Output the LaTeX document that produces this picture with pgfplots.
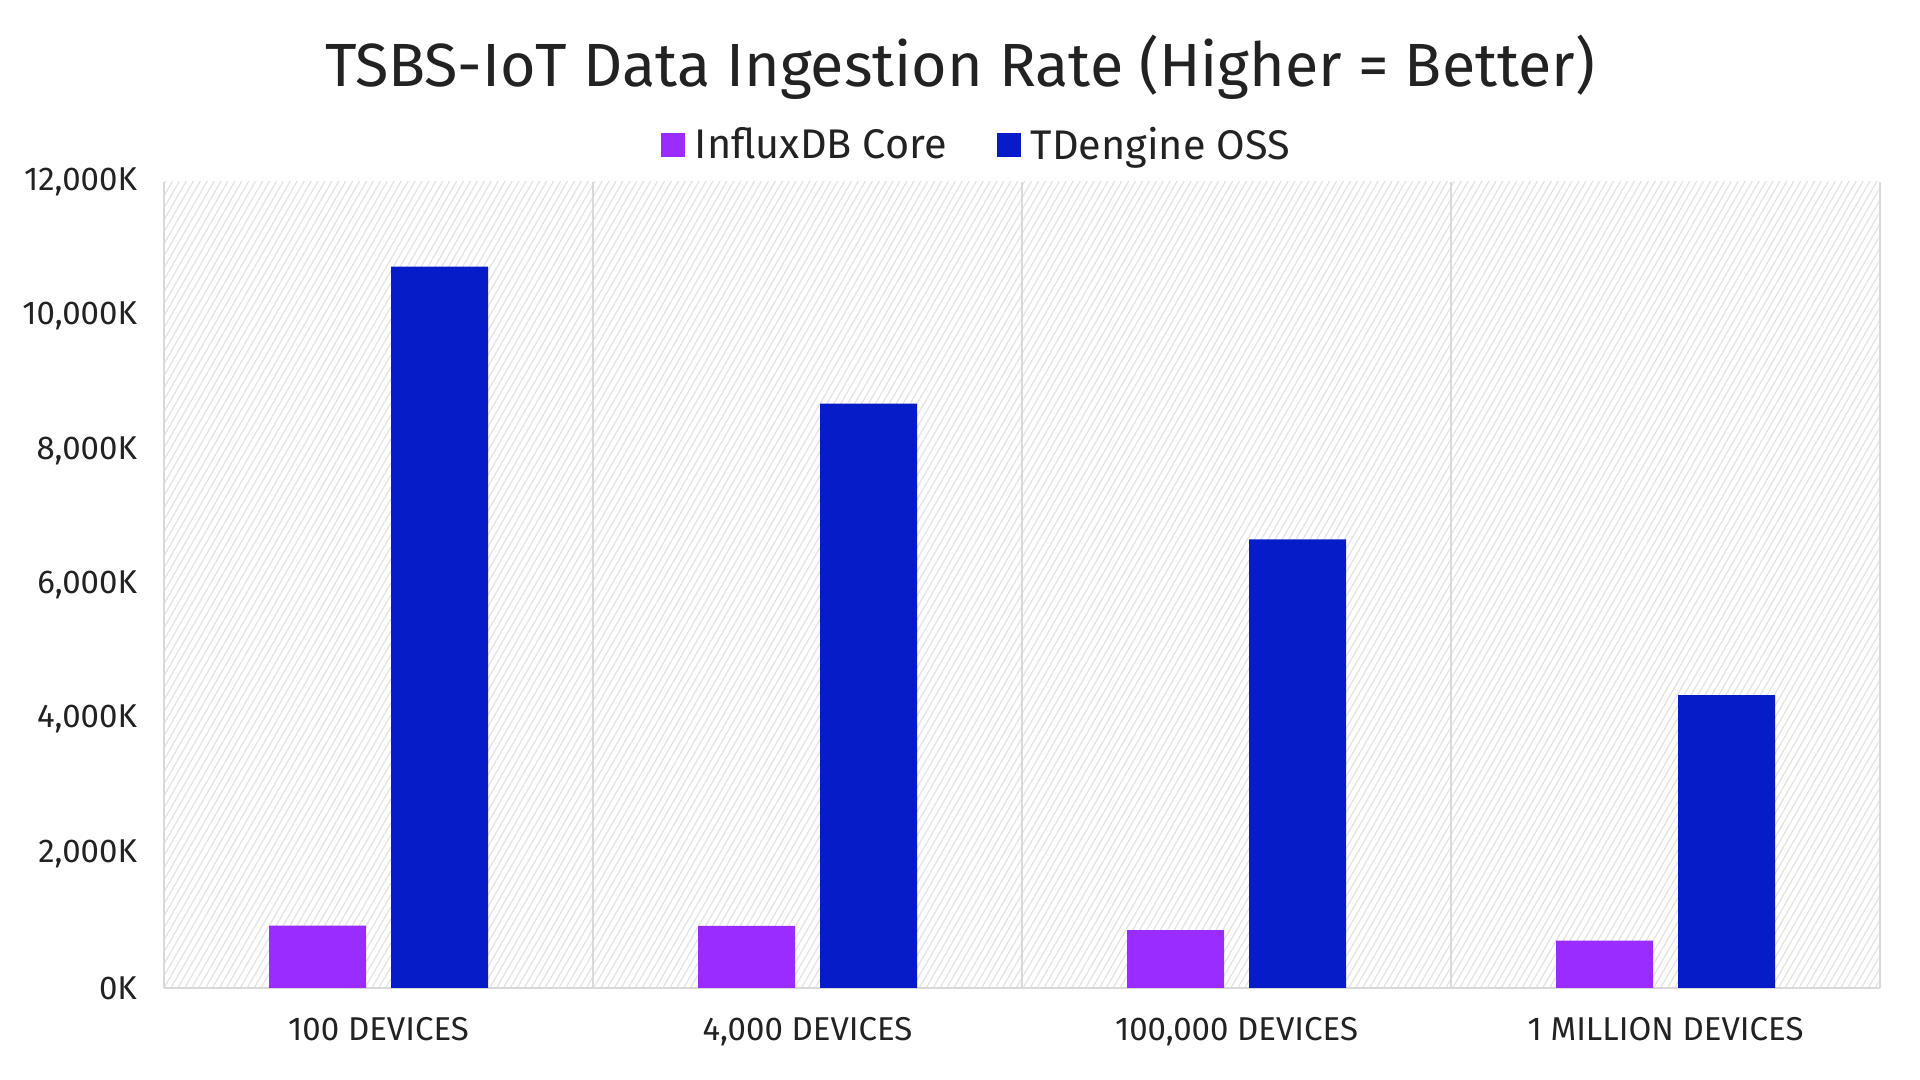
\documentclass[border=0pt]{standalone}
\usepackage{fontspec}
\setmainfont{Fira Sans}
\usepackage{pgfplots}
\pgfplotsset{compat=1.18}
\usetikzlibrary{patterns.meta}
\definecolor{cpurple}{HTML}{9B2CFF}
\definecolor{cblue}{HTML}{061CC8}
\definecolor{cgrid}{HTML}{D9D9D9}
\definecolor{chatch}{HTML}{E2E2E2}
\definecolor{ctext}{HTML}{222222}

\begin{document}
\begin{tikzpicture}
\useasboundingbox (0,0) rectangle (960pt,540pt);
\begin{axis}[
  at={(82pt,46pt)}, anchor=south west,
  scale only axis, width=858pt, height=403pt,
  ybar=12.5pt, bar width=48.5pt,
  xmin=-0.5, xmax=3.5, ymin=0, ymax=12000,
  xtick={0,1,2,3},
  xticklabels={100 DEVICES, {4,000 DEVICES}, {100,000 DEVICES}, 1 MILLION DEVICES},
  minor xtick={0.5,1.5,2.5,3.5},
  xminorgrids,
  minor grid style={cgrid, line width=1pt},
  major tick length=0pt, minor tick length=0pt,
  axis x line*=bottom, axis y line*=left,
  axis line style={cgrid, line width=1.2pt, -},
  ytick={0,2000,...,12000},
  scaled y ticks=false,
  yticklabel={\pgfmathprintnumber{\tick}K},
  yticklabel style={/pgf/number format/1000 sep={,}, /pgf/number format/assume math mode=true,
    font=\fontsize{16.5}{19}\selectfont, text=ctext, xshift=-10pt},
  xticklabel style={font=\fontsize{16.5}{19}\selectfont, text=ctext, yshift=-11pt},
  axis background/.style={pattern={Lines[angle=60, distance=3pt, line width=0.6pt]}, pattern color=chatch},
  legend style={at={(0.474,1.046)}, anchor=center, draw=none, fill=none,
    legend columns=2, font=\fontsize{20.7}{24}\selectfont, text=ctext,
    /tikz/every odd column/.append style={column sep=3pt},
    /tikz/every even column/.append style={column sep=23pt}},
  legend image code/.code={\fill[#1] (0pt,-6pt) rectangle (12pt,6pt);},
]
\addplot[fill=cpurple, draw=none] coordinates {(0,930) (1,925) (2,860) (3,705)};
\addplot[fill=cblue, draw=none] coordinates {(0,10740) (1,8700) (2,6680) (3,4360)};
\legend{InfluxDB Core, TDengine OSS}
\end{axis}
\node[anchor=base, font=\fontsize{30.5}{37}\selectfont, text=ctext] at (480pt,496.5pt)
  {TSBS-IoT Data Ingestion Rate (Higher = Better)};
\end{tikzpicture}
\end{document}
